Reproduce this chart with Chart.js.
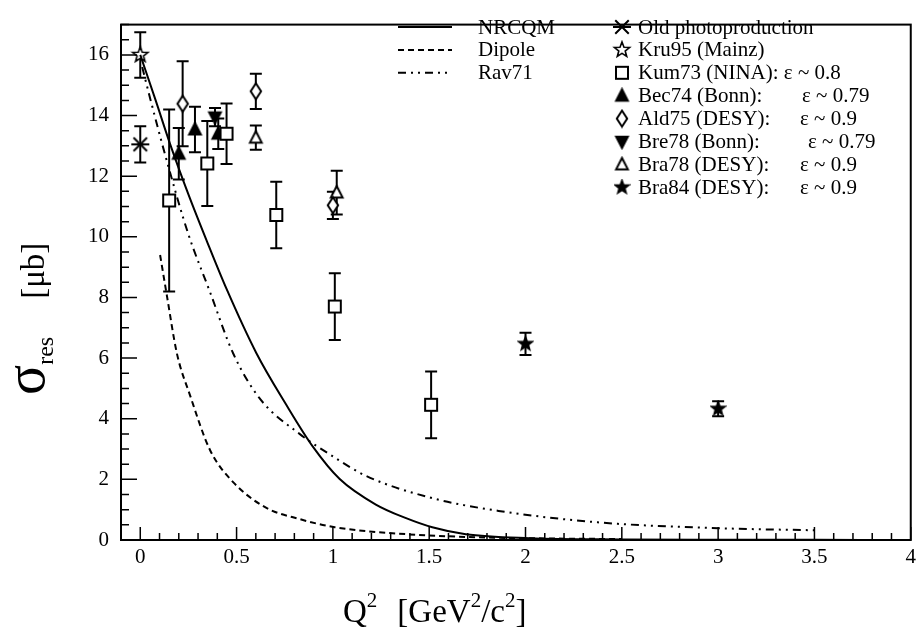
<!DOCTYPE html>
<html>
<head>
<meta charset="utf-8">
<script src="https://cdn.jsdelivr.net/npm/chart.js@4.4.1/dist/chart.umd.min.js"></script>
<style>
  body { margin: 0; background: #fff; }
  canvas { display: block; }
</style>
</head>
<body>
<canvas id="grafico" width="921" height="634"></canvas>
<script>
/* Curvas teoricas */
const nrcqmQ2 = [0, 0.08, 0.155, 0.25, 0.345, 0.448, 0.603, 0.758, 0.896, 1.034, 1.223, 1.38, 1.516, 1.69, 2.02, 2.5, 3, 3.5, 4];
const nrcqmSigma = [16, 14.5, 13.06, 11.4, 9.87, 8.28, 6.16, 4.46, 3.08, 2.02, 1.17, 0.72, 0.42, 0.19, 0.06, 0.02, 0.01, 0.005, 0];
const dipoleQ2 = [0.103, 0.138, 0.19, 0.258, 0.362, 0.482, 0.655, 0.827, 1.01, 1.34, 1.69, 2.0, 2.5];
const dipoleSigma = [9.4, 8.07, 6.16, 4.78, 2.97, 1.91, 1.06, 0.69, 0.42, 0.21, 0.1, 0.06, 0.03];
const rav71Q2 = [0.01, 0.052, 0.138, 0.249, 0.362, 0.482, 0.62, 0.827, 1.0, 1.17, 1.516, 1.86, 2.38, 3.0, 3.5];
const rav71Sigma = [15.6, 14.55, 12.5, 10.1, 8.18, 6.16, 4.67, 3.5, 2.76, 2.12, 1.38, 0.96, 0.58, 0.39, 0.32];

/* Datos experimentales (Q2, sigma, error) */
const oldPhotoQ2 = [0], oldPhotoSigma = [13.05], oldPhotoErr = [0.6];
const kru95Q2 = [0], kru95Sigma = [16.0], kru95Err = [0.75];
const kum73Q2 = [0.15, 0.348, 0.448, 0.706, 1.01, 1.51];
const kum73Sigma = [11.2, 12.42, 13.4, 10.72, 7.7, 4.46];
const kum73Err = [3.0, 1.4, 1.0, 1.1, 1.1, 1.1];
const bec74Q2 = [0.2, 0.284, 0.405], bec74Sigma = [12.74, 13.54, 13.4], bec74Err = [0.85, 0.75, 0.5];
const ald75Q2 = [0.22, 0.6, 1.0], ald75Sigma = [14.39, 14.8, 11.04], ald75Err = [1.4, 0.58, 0.45];
const bre78Q2 = [0.388], bre78Sigma = [13.95], bre78Err = [0.3];
const bra78Q2 = [0.6, 1.02], bra78Sigma = [13.27, 11.46], bra78Err = [0.4, 0.72];
const bra84Q2 = [2.0, 3.0], bra84Sigma = [6.47, 4.33], bra84Err = [0.37, 0.25];

/* Ejes */
const xTicks = [0, 0.5, 1, 1.5, 2, 2.5, 3, 3.5, 4];
const yTicks = [0, 2, 4, 6, 8, 10, 12, 14, 16];

const FONT = '"Liberation Serif", "Times New Roman", serif';

/* Marcadores estilo ROOT dibujados en un canvas chico */
function makeMarker(kind, size) {
  const c = document.createElement('canvas');
  c.width = c.height = size + 4;
  const g = c.getContext('2d');
  const m = c.width / 2, r = size / 2;
  g.lineWidth = 2;
  g.strokeStyle = '#000';
  g.fillStyle = '#000';
  g.beginPath();
  if (kind === 'square') {
    g.fillStyle = '#fff';
    g.rect(m - r + 1, m - r + 1, size - 2, size - 2);
    g.fill(); g.stroke();
  } else if (kind === 'triUp' || kind === 'triOpen') {
    g.moveTo(m, m - r); g.lineTo(m + r * 0.9, m + r * 0.75); g.lineTo(m - r * 0.9, m + r * 0.75); g.closePath();
    if (kind === 'triOpen') g.fillStyle = '#fff';
    g.fill(); g.stroke();
  } else if (kind === 'triDown') {
    g.moveTo(m, m + r); g.lineTo(m + r * 0.9, m - r * 0.75); g.lineTo(m - r * 0.9, m - r * 0.75); g.closePath();
    g.fill(); g.stroke();
  } else if (kind === 'diamond') {
    g.moveTo(m, m - r); g.lineTo(m + r * 0.65, m); g.lineTo(m, m + r); g.lineTo(m - r * 0.65, m); g.closePath();
    g.fillStyle = '#fff';
    g.fill(); g.stroke();
  } else if (kind === 'star' || kind === 'starOpen') {
    for (let i = 0; i < 10; i++) {
      const rr = i % 2 === 0 ? r : r * 0.42;
      const a = -Math.PI / 2 + i * Math.PI / 5;
      const px = m + rr * Math.cos(a), py = m + rr * Math.sin(a);
      if (i === 0) g.moveTo(px, py); else g.lineTo(px, py);
    }
    g.closePath();
    if (kind === 'starOpen') { g.fillStyle = '#fff'; g.lineWidth = 1.6; }
    g.fill(); g.stroke();
  } else if (kind === 'asterisk') {
    const d = r * 0.75;
    g.moveTo(m - d, m - d); g.lineTo(m + d, m + d);
    g.moveTo(m - d, m + d); g.lineTo(m + d, m - d);
    g.moveTo(m - r, m); g.lineTo(m + r, m);
    g.stroke();
  }
  return c;
}

const mk = {
  asterisk: makeMarker('asterisk', 18),
  starOpen: makeMarker('starOpen', 16),
  square: makeMarker('square', 14),
  triUp: makeMarker('triUp', 13),
  diamond: makeMarker('diamond', 16),
  triDown: makeMarker('triDown', 13),
  triOpen: makeMarker('triOpen', 13),
  star: makeMarker('star', 13)
};

function puntos(q, s) { return q.map((v, i) => ({ x: v, y: s[i] })); }

/* Series experimentales con su marcador, errores y etiqueta de leyenda */
const series = [
  { label: 'Old photoproduction', eps: '', q: oldPhotoQ2, s: oldPhotoSigma, e: oldPhotoErr, m: mk.asterisk },
  { label: 'Kru95 (Mainz)', eps: '', q: kru95Q2, s: kru95Sigma, e: kru95Err, m: mk.starOpen },
  { label: 'Kum73 (NINA): ', eps: 'ε ~ 0.8', q: kum73Q2, s: kum73Sigma, e: kum73Err, m: mk.square },
  { label: 'Bec74 (Bonn):', eps: 'ε ~ 0.79', q: bec74Q2, s: bec74Sigma, e: bec74Err, m: mk.triUp, epsX: 802 },
  { label: 'Ald75 (DESY):', eps: 'ε ~ 0.9', q: ald75Q2, s: ald75Sigma, e: ald75Err, m: mk.diamond, epsX: 800 },
  { label: 'Bre78 (Bonn):', eps: 'ε ~ 0.79', q: bre78Q2, s: bre78Sigma, e: bre78Err, m: mk.triDown, epsX: 808 },
  { label: 'Bra78 (DESY):', eps: 'ε ~ 0.9', q: bra78Q2, s: bra78Sigma, e: bra78Err, m: mk.triOpen, epsX: 800 },
  { label: 'Bra84 (DESY):', eps: 'ε ~ 0.9', q: bra84Q2, s: bra84Sigma, e: bra84Err, m: mk.star, epsX: 800 }
];

const curvas = [
  { label: 'NRCQM', q: nrcqmQ2, s: nrcqmSigma, dash: [] },
  { label: 'Dipole', q: dipoleQ2, s: dipoleSigma, dash: [6, 4] },
  { label: 'Rav71', q: rav71Q2, s: rav71Sigma, dash: [8, 5, 2, 5, 2, 5] }
];

/* Barras de error, marco, ticks interiores, titulos y leyenda */
const estiloRoot = {
  id: 'estiloRoot',
  beforeDatasetsDraw(chart) {
    const ctx = chart.ctx, xs = chart.scales.x, ys = chart.scales.y;
    ctx.save();
    ctx.strokeStyle = '#000';
    ctx.lineWidth = 2;
    series.forEach(sr => {
      sr.q.forEach((q, i) => {
        const px = xs.getPixelForValue(q);
        const top = ys.getPixelForValue(sr.s[i] + sr.e[i]);
        const bot = ys.getPixelForValue(sr.s[i] - sr.e[i]);
        ctx.beginPath();
        ctx.moveTo(px, top); ctx.lineTo(px, bot);
        ctx.moveTo(px - 6, top); ctx.lineTo(px + 6, top);
        ctx.moveTo(px - 6, bot); ctx.lineTo(px + 6, bot);
        ctx.stroke();
      });
    });
    ctx.restore();
  },
  afterDraw(chart) {
    const ctx = chart.ctx, a = chart.chartArea, xs = chart.scales.x, ys = chart.scales.y;
    ctx.save();
    ctx.strokeStyle = '#000';
    ctx.fillStyle = '#000';
    ctx.lineWidth = 2;
    ctx.strokeRect(a.left, a.top, a.right - a.left, a.bottom - a.top);

    /* ticks hacia adentro */
    ctx.lineWidth = 1.5;
    ctx.beginPath();
    for (let k = 0; k <= 40; k++) {
      const px = xs.getPixelForValue(k / 10);
      const len = k % 5 === 0 ? 13 : 7;
      ctx.moveTo(px, a.bottom); ctx.lineTo(px, a.bottom - len);
    }
    for (let k = 0; k <= 34; k++) {
      const py = ys.getPixelForValue(k / 2);
      const len = k % 4 === 0 ? 16 : 8;
      ctx.moveTo(a.left, py); ctx.lineTo(a.left + len, py);
    }
    ctx.stroke();

    /* titulo eje x */
    ctx.textBaseline = 'alphabetic';
    ctx.textAlign = 'left';
    let x = 343;
    const yb = 622;
    const trozo = (t, size, dy) => {
      ctx.font = size + 'px ' + FONT;
      ctx.fillText(t, x, yb + dy);
      x += ctx.measureText(t).width;
    };
    trozo('Q', 33, 0); trozo('2', 21, -15); x += 20;
    trozo('[GeV', 33, 0); trozo('2', 21, -15); trozo('/c', 33, 0); trozo('2', 21, -15); trozo(']', 33, 0);

    /* titulo eje y (rotado) */
    ctx.save();
    ctx.translate(44, 395);
    ctx.rotate(-Math.PI / 2);
    x = 0;
    const trozoY = (t, size, dy) => {
      ctx.font = size + 'px ' + FONT;
      ctx.fillText(t, x, dy);
      x += ctx.measureText(t).width;
    };
    trozoY('σ', 56, 0); trozoY('res', 24, 9); x += 38;
    trozoY('[μb]', 33, 0);
    ctx.restore();

    /* leyenda curvas */
    ctx.font = '21px ' + FONT;
    ctx.textBaseline = 'middle';
    curvas.forEach((c, i) => {
      const y = 27 + i * 22.9;
      ctx.setLineDash(c.dash);
      ctx.lineWidth = 2;
      ctx.beginPath(); ctx.moveTo(398, y); ctx.lineTo(452, y); ctx.stroke();
      ctx.setLineDash([]);
      ctx.fillText(c.label, 478, y + 1);
    });

    /* leyenda datos */
    series.forEach((sr, i) => {
      const y = 27 + i * 22.9;
      ctx.drawImage(sr.m, 622 - sr.m.width / 2, y - sr.m.height / 2);
      ctx.fillText(sr.label, 638, y + 1);
      if (sr.eps) {
        const ex = sr.epsX || (638 + ctx.measureText(sr.label).width);
        ctx.fillText(sr.eps, ex, y + 1);
      }
    });
    ctx.restore();
  }
};

const datasets = [];
curvas.forEach(c => datasets.push({
  type: 'line',
  label: c.label,
  data: puntos(c.q, c.s),
  borderColor: '#000',
  borderWidth: 2,
  borderDash: c.dash,
  pointRadius: 0,
  cubicInterpolationMode: 'monotone',
  fill: false
}));
series.forEach(sr => datasets.push({
  type: 'scatter',
  label: sr.label,
  data: puntos(sr.q, sr.s),
  pointStyle: sr.m,
  pointRadius: 7,
  showLine: false
}));

new Chart(document.getElementById('grafico'), {
  type: 'scatter',
  data: { datasets },
  options: {
    responsive: false,
    animation: false,
    layout: { padding: { top: 7, right: 8, left: 0, bottom: 0 } },
    plugins: { legend: { display: false }, tooltip: { enabled: false } },
    scales: {
      x: {
        type: 'linear',
        min: -0.1,
        max: 4,
        grid: { display: false, drawTicks: false },
        border: { display: false },
        afterBuildTicks: (s) => { s.ticks = xTicks.map(v => ({ value: v })); },
        afterFit: (s) => { s.height = 94; },
        ticks: {
          padding: 5,
          color: '#000',
          font: { family: FONT, size: 21 },
          maxRotation: 0,
          callback: (v) => String(v)
        }
      },
      y: {
        type: 'linear',
        min: 0,
        max: 17,
        grid: { display: false, drawTicks: false },
        border: { display: false },
        afterBuildTicks: (s) => { s.ticks = yTicks.map(v => ({ value: v })); },
        afterFit: (s) => { s.width = 121; },
        ticks: {
          padding: 12,
          color: '#000',
          font: { family: FONT, size: 21 },
          callback: (v) => String(v)
        }
      }
    }
  },
  plugins: [estiloRoot]
});
</script>
</body>
</html>
